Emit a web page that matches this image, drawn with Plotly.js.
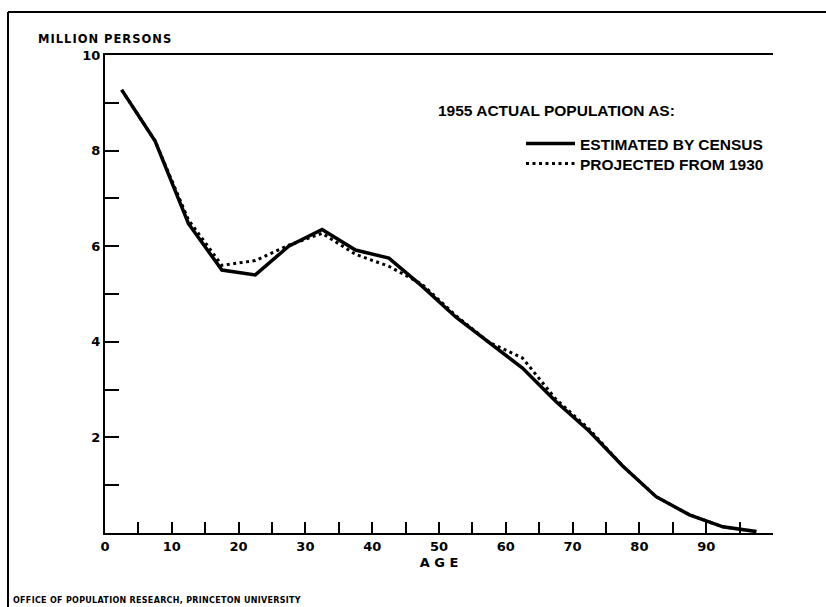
<!DOCTYPE html>
<html>
<head>
<meta charset="utf-8">
<script src="https://cdn.plot.ly/plotly-3.0.1.min.js"></script>
<style>
html,body{margin:0;padding:0;background:#fff;}
#chart{width:826px;height:607px;}
.annotation[data-index="0"] text{letter-spacing:1px;}
.annotation[data-index="2"] text{letter-spacing:0.3px;}
</style>
</head>
<body>
<div id="chart"></div>
<script>
// Age-group midpoints (years)
const ages = [2.5, 7.5, 12.5, 17.5, 22.5, 27.5, 32.5, 37.5, 42.5, 47.5, 52.5, 57.5, 62.5, 67.5, 72.5, 77.5, 82.5, 87.5, 92.5, 97.5];
// 1955 population, million persons
const censusEstimate = [9.27, 8.2, 6.47, 5.5, 5.4, 6.0, 6.35, 5.92, 5.75, 5.16, 4.52, 3.98, 3.45, 2.75, 2.13, 1.4, 0.76, 0.38, 0.13, 0.03];
const projected1930 = [9.27, 8.2, 6.55, 5.6, 5.7, 6.02, 6.27, 5.83, 5.58, 5.2, 4.55, 3.99, 3.66, 2.8, 2.17, 1.4, 0.76, 0.38, 0.13, 0.03];

const seriesNames = ['ESTIMATED BY CENSUS', 'PROJECTED FROM 1930'];
const legendHeader = '1955 ACTUAL POPULATION AS:';
const yTitle = 'MILLION PERSONS';
const xTitle = 'A G E';
const sourceNote = 'OFFICE OF POPULATION RESEARCH, PRINCETON UNIVERSITY';

const xTickVals = [0,5,10,15,20,25,30,35,40,45,50,55,60,65,70,75,80,85,90,95];
const xTickText = ['0','','10','','20','','30','','40','','50','','60','','70','','80','','90',''];
const yTickVals = [1,2,3,4,5,6,7,8,9,10];
const yTickText = ['','2','','4','','6','','8','','10'];

const SANS = 'Liberation Sans, Arial, sans-serif';
const WIDE = 'DejaVu Sans, Verdana, sans-serif';

// plot area in pixels: left 105, right 773, top 55, bottom 533
const L = 105, R = 773, T = 55, B = 533;
const px = x => (x - L) / (R - L);
const py = y => (B - y) / (B - T);

const traces = [
  {
    x: ages, y: projected1930, name: seriesNames[1], type: 'scatter', mode: 'lines',
    line: {color: '#000', width: 3, dash: '3px,3.5px'}, legend: 'legend2'
  },
  {
    x: ages, y: censusEstimate, name: seriesNames[0], type: 'scatter', mode: 'lines',
    line: {color: '#000', width: 3.5}, legend: 'legend'
  }
];

const legendFont = {family: SANS, size: 15.5, weight: 'bold', color: '#000'};
const legendBase = {xanchor: 'left', yanchor: 'middle', bgcolor: 'rgba(0,0,0,0)', borderwidth: 0,
                    font: legendFont, itemwidth: 49};

const layout = {
  width: 826, height: 607,
  margin: {l: L, r: 826 - R, t: T, b: 607 - B, pad: 0},
  paper_bgcolor: '#fff', plot_bgcolor: '#fff',
  font: {family: SANS, color: '#000', size: 12},
  showlegend: true,
  legend: Object.assign({x: px(521), y: py(144)}, legendBase),
  legend2: Object.assign({x: px(521), y: py(164)}, legendBase),
  xaxis: {
    range: [0, 100], tickvals: xTickVals, ticktext: xTickText,
    ticks: 'inside', ticklen: 11, tickwidth: 2, tickcolor: '#000',
    showline: true, linecolor: '#000', linewidth: 2, mirror: true,
    showgrid: false, zeroline: false,
    tickfont: {family: WIDE, size: 13, weight: 'bold'},
    title: {text: xTitle, font: {family: WIDE, size: 13, weight: 'bold'}, standoff: 5}
  },
  yaxis: {
    range: [0, 10], tickvals: yTickVals, ticktext: yTickText,
    ticks: 'inside', ticklen: 14, tickwidth: 2, tickcolor: '#000',
    showline: true, linecolor: '#000', linewidth: 2, mirror: false,
    showgrid: false, zeroline: false,
    tickfont: {family: WIDE, size: 13, weight: 'bold'}
  },
  annotations: [
    {xref: 'paper', yref: 'paper', x: px(36), y: py(39.5), xanchor: 'left', yanchor: 'middle', align: 'left',
     text: yTitle, showarrow: false, font: {family: WIDE, size: 11.5, weight: 'bold'}},
    {xref: 'paper', yref: 'paper', x: px(436), y: py(111), xanchor: 'left', yanchor: 'middle',
     text: legendHeader, showarrow: false, font: {family: SANS, size: 15.5, weight: 'bold'}},
    {xref: 'paper', yref: 'paper', x: px(11), y: py(600), xanchor: 'left', yanchor: 'middle', align: 'left',
     text: sourceNote, showarrow: false, font: {family: WIDE, size: 8, weight: 'bold'}}
  ],
  shapes: [
    {type: 'line', xref: 'paper', yref: 'paper', x0: px(8), x1: px(826), y0: py(12), y1: py(12),
     line: {color: '#000', width: 2}},
    {type: 'line', xref: 'paper', yref: 'paper', x0: px(8), x1: px(8), y0: py(12), y1: py(607),
     line: {color: '#000', width: 2}}
  ]
};

Plotly.newPlot('chart', traces, layout, {displayModeBar: false, staticPlot: true});
</script>
</body>
</html>
